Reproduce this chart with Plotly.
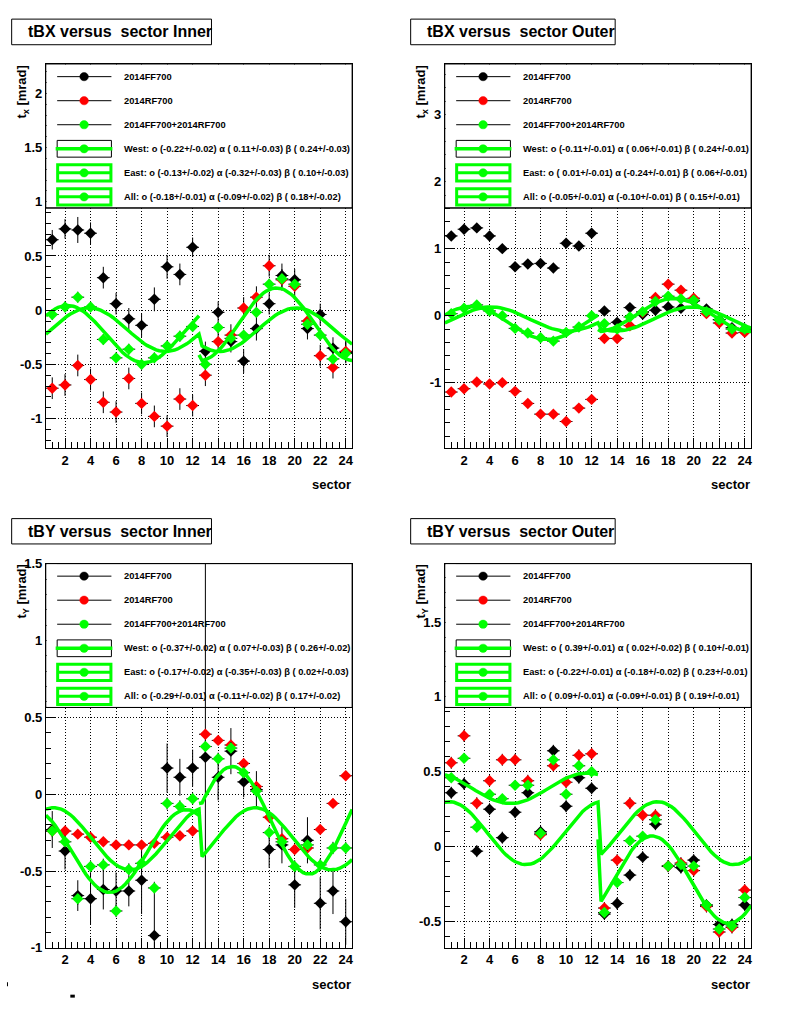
import numpy as np
import plotly.graph_objects as go

W, H = 800, 1014
FONT = "Liberation Sans"
GREEN, RED, BLACK = "#00ff00", "#ff0000", "#000000"

sectors = list(range(1, 25))
SECTOR_HALF_WIDTH = 0.5
series_names = ["2014FF700", "2014RF700", "2014FF700+2014RF700"]
fit_names = ["West", "East", "All"]

# ---------------- tBX versus sector Inner ----------------
tbx_in_ff = [0.65, 0.75, 0.74, 0.71, 0.30, 0.06, -0.08, -0.14, 0.10, 0.40, 0.33, 0.58,
             -0.38, -0.02, -0.29, -0.47, -0.17, 0.06, 0.32, 0.28, -0.17, -0.04, -0.35, -0.39]
tbx_in_ff_err = [0.09, 0.09, 0.12, 0.10, 0.10, 0.10, 0.10, 0.11, 0.11, 0.11, 0.10, 0.09,
                 0.09, 0.10, 0.10, 0.11, 0.11, 0.10, 0.11, 0.10, 0.10, 0.10, 0.10, 0.10]
tbx_in_rf = [-0.72, -0.69, -0.51, -0.64, -0.85, -0.94, -0.63, -0.86, -0.98, -1.07, -0.82, -0.88,
             -0.60, -0.29, -0.23, 0.02, 0.12, 0.41, 0.28, 0.22, -0.10, -0.42, -0.53, -0.38]
tbx_in_rf_err = [0.10, 0.10, 0.10, 0.10, 0.10, 0.10, 0.10, 0.10, 0.10, 0.10, 0.10, 0.10,
                 0.10, 0.10, 0.10, 0.10, 0.10, 0.10, 0.10, 0.10, 0.10, 0.10, 0.10, 0.10]
tbx_in_all = [-0.04, 0.03, 0.12, 0.03, -0.27, -0.44, -0.36, -0.50, -0.44, -0.33, -0.24, -0.15,
              -0.50, -0.16, -0.26, -0.23, -0.02, 0.24, 0.29, 0.24, -0.13, -0.23, -0.45, -0.40]
tbx_in_all_err = [0.05] * 24
tbx_in_fit = [[-0.22, 0.11, 0.24], [-0.13, -0.32, 0.10], [-0.18, -0.09, 0.18]]
tbx_in_fit_err = [[0.02, 0.03, 0.03], [0.02, 0.03, 0.03], [0.01, 0.02, 0.02]]

# ---------------- tBX versus sector Outer ----------------
tbx_out_ff = [1.19, 1.29, 1.31, 1.19, 1.00, 0.73, 0.77, 0.78, 0.71, 1.08, 1.04, 1.23,
              0.07, -0.10, 0.12, 0.02, 0.08, 0.13, 0.11, 0.22, 0.10, -0.06, -0.18, -0.20]
tbx_out_ff_err = [0.03] * 24
tbx_out_rf = [-1.14, -1.09, -0.99, -1.02, -1.00, -1.13, -1.31, -1.47, -1.47, -1.58, -1.38, -1.25,
              -0.34, -0.34, -0.15, 0.05, 0.27, 0.47, 0.38, 0.26, 0.03, -0.11, -0.26, -0.25]
tbx_out_rf_err = [0.03] * 24
tbx_out_all = [0.03, 0.11, 0.16, 0.07, 0.00, -0.19, -0.26, -0.33, -0.38, -0.25, -0.17, 0.00,
               -0.12, -0.20, -0.02, 0.06, 0.21, 0.29, 0.25, 0.23, 0.06, -0.06, -0.20, -0.20]
tbx_out_all_err = [0.02] * 24
tbx_out_fit = [[-0.11, 0.06, 0.24], [0.01, -0.24, 0.06], [-0.05, -0.10, 0.15]]
tbx_out_fit_err = [[0.01, 0.01, 0.01], [0.01, 0.01, 0.01], [0.01, 0.01, 0.01]]

# ---------------- tBY versus sector Inner ----------------
tby_in_ff = [-0.23, -0.37, -0.66, -0.68, -0.62, -0.63, -0.63, -0.56, -0.92, 0.17, 0.11, 0.17,
             0.24, 0.11, 0.28, 0.08, 0.03, -0.36, -0.33, -0.59, -0.30, -0.71, -0.63, -0.83]
tby_in_ff_err = [0.12, 0.12, 0.10, 0.17, 0.13, 0.12, 0.10, 0.22, 0.27, 0.16, 0.12, 0.12,
                 2.50, 0.15, 0.15, 0.10, 0.12, 0.12, 0.12, 0.15, 0.15, 0.17, 0.15, 0.15]
tby_in_rf = [-0.24, -0.24, -0.26, -0.28, -0.31, -0.33, -0.33, -0.33, -0.32, -0.28, -0.27, -0.24,
             0.39, 0.35, 0.32, 0.20, 0.05, -0.15, -0.29, -0.36, -0.35, -0.23, -0.06, 0.12]
tby_in_rf_err = [0.02] * 24
tby_in_all = [-0.24, -0.31, -0.68, -0.47, -0.46, -0.76, -0.49, -0.45, -0.61, -0.06, -0.08, -0.03,
              0.31, 0.23, 0.30, 0.14, 0.02, -0.25, -0.31, -0.47, -0.33, -0.46, -0.35, -0.35]
tby_in_all_err = [0.04] * 24
tby_in_fit = [[-0.37, 0.07, 0.26], [-0.17, -0.35, 0.02], [-0.29, -0.11, 0.17]]
tby_in_fit_err = [[0.02, 0.03, 0.02], [0.02, 0.03, 0.03], [0.01, 0.02, 0.02]]

# ---------------- tBY versus sector Outer ----------------
tby_out_ff = [0.36, 0.42, -0.03, 0.25, 0.06, 0.23, 0.36, 0.10, 0.64, 0.27, 0.46, 0.39,
              -0.45, -0.38, -0.19, -0.07, 0.15, -0.13, -0.14, -0.09, -0.39, -0.52, -0.52, -0.39]
tby_out_ff_err = [0.04] * 24
tby_out_rf = [0.56, 0.74, 0.29, 0.44, 0.58, 0.58, 0.44, 0.08, 0.54, 0.43, 0.61, 0.62,
              -0.41, -0.09, 0.29, 0.21, 0.21, -0.13, -0.11, -0.16, -0.40, -0.57, -0.54, -0.29]
tby_out_rf_err = [0.04] * 24
tby_out_all = [0.46, 0.59, 0.13, 0.35, 0.32, 0.41, 0.41, 0.09, 0.58, 0.35, 0.54, 0.50,
               -0.44, -0.24, 0.04, 0.07, 0.18, -0.13, -0.12, -0.13, -0.39, -0.55, -0.53, -0.34]
tby_out_all_err = [0.02] * 24
tby_out_fit = [[0.39, 0.02, 0.10], [-0.22, -0.18, 0.23], [0.09, -0.09, 0.19]]
tby_out_fit_err = [[0.01, 0.02, 0.01], [0.01, 0.02, 0.01], [0.01, 0.01, 0.01]]

x_tickvals = [2, 4, 6, 8, 10, 12, 14, 16, 18, 20, 22, 24]
x_ticktext = ["2", "4", "6", "8", "10", "12", "14", "16", "18", "20", "22", "24"]

panels = [
    dict(title="tBX versus  sector Inner", ytitle="t<sub>x</sub> [mrad]", kind="x",
         frame=(46, 353, 58, 448), yrange=(-1.275, 2.27), leg_bottom=204,
         yticks=[-1, -0.5, 0, 0.5, 1, 1.5, 2], ytext=["-1", "-0.5", "0", "0.5", "1", "1.5", "2"],
         yminor=0.1, title_box=(11.7, 212, 12.3, 38.3), title_x=27,
         data=[(tbx_in_ff, tbx_in_ff_err), (tbx_in_rf, tbx_in_rf_err), (tbx_in_all, tbx_in_all_err)],
         fit=tbx_in_fit, fit_err=tbx_in_fit_err),
    dict(title="tBX versus  sector Outer", ytitle="t<sub>x</sub> [mrad]", kind="x",
         frame=(446, 753, 58, 448), yrange=(-1.981, 3.754), leg_bottom=204,
         yticks=[-1, 0, 1, 2, 3], ytext=["-1", "0", "1", "2", "3"],
         yminor=0.2, title_box=(411.7, 616.7, 12.3, 38.3), title_x=427,
         data=[(tbx_out_ff, tbx_out_ff_err), (tbx_out_rf, tbx_out_rf_err), (tbx_out_all, tbx_out_all_err)],
         fit=tbx_out_fit, fit_err=tbx_out_fit_err),
    dict(title="tBY versus  sector Inner", ytitle="t<sub>Y</sub> [mrad]", kind="y",
         frame=(46, 353, 565, 955), yrange=(-1.0, 1.5), leg_bottom=711,
         yticks=[-1, -0.5, 0, 0.5, 1, 1.5], ytext=["-1", "-0.5", "0", "0.5", "1", "1.5"],
         yminor=0.1, title_box=(11.7, 212, 519.3, 545), title_x=27,
         data=[(tby_in_ff, tby_in_ff_err), (tby_in_rf, tby_in_rf_err), (tby_in_all, tby_in_all_err)],
         fit=tby_in_fit, fit_err=tby_in_fit_err),
    dict(title="tBY versus  sector Outer", ytitle="t<sub>Y</sub> [mrad]", kind="y",
         frame=(446, 753, 565, 955), yrange=(-0.676, 1.89), leg_bottom=711,
         yticks=[-0.5, 0, 0.5, 1, 1.5], ytext=["-0.5", "0", "0.5", "1", "1.5"],
         yminor=0.1, title_box=(411.7, 616.7, 519.3, 545), title_x=427,
         data=[(tby_out_ff, tby_out_ff_err), (tby_out_rf, tby_out_rf_err), (tby_out_all, tby_out_all_err)],
         fit=tby_out_fit, fit_err=tby_out_fit_err),
]


def px(x):
    return x / W


def py(y):
    return 1 - y / H


def fit_curve(s, params, kind):
    """Evaluate the sector fit o, alpha, beta (west: sectors <= 12.5, east: > 12.5)."""
    o, a, b = params
    s = np.asarray(s, dtype=float)
    east = s > 12.5 + 1e-9
    phi = np.radians(np.where(east, 90 + 30 * s, 90 - 30 * s))
    if kind == "x":
        return o + a * np.sin(phi) + b * np.cos(phi)
    sign = np.where(east, 1.0, -1.0)
    return o + sign * (a * np.cos(phi) - b * np.sin(phi))


fig = go.Figure()
shapes, annotations = [], []
colors = [BLACK, RED, GREEN]

for i, p in enumerate(panels):
    ax = "" if i == 0 else str(i + 1)
    xref, yref = "x" + ax, "y" + ax
    x0, x1, y0, y1 = p["frame"]
    ylo, yhi = p["yrange"]

    for (vals, errs), col in zip(p["data"], colors):
        fig.add_trace(go.Scatter(
            x=sectors, y=vals, mode="markers", xaxis=xref, yaxis=yref, showlegend=False,
            marker=dict(symbol="diamond", size=8.8, color=col, line=dict(width=0)),
            error_y=dict(type="data", array=errs, color=BLACK, thickness=1, width=0),
            error_x=dict(type="constant", value=SECTOR_HALF_WIDTH, color=BLACK, thickness=1, width=0),
        ))

    grids = [np.linspace(0.5, 12.5, 51), np.linspace(12.5, 24.5, 51), np.linspace(0.5, 24.5, 101)]
    for g, params in zip(grids, p["fit"]):
        fig.add_trace(go.Scatter(
            x=g, y=fit_curve(g, params, p["kind"]), mode="lines", xaxis=xref, yaxis=yref,
            showlegend=False, line=dict(color=GREEN, width=3.5)))

    ydom = [py(y1), py(y0)]
    xdom = [px(x0), px(x1)]
    yminor_vals = list(np.round(np.arange(np.ceil(ylo / p["yminor"]) * p["yminor"], yhi, p["yminor"]), 3))
    common = dict(showline=True, mirror=True, linecolor=BLACK, linewidth=1,
                  showgrid=True, gridcolor=BLACK, gridwidth=1, griddash="1px,2px",
                  zeroline=False, ticks="inside", tickcolor=BLACK, tickwidth=1,
                  tickfont=dict(family=FONT, size=13, color=BLACK, weight="bold"))
    fig.update_layout(**{
        "xaxis" + ax: dict(domain=xdom, range=[0.5, 24.5], anchor=yref, tickmode="array",
                           tickvals=x_tickvals, ticktext=x_ticktext, ticklen=10,
                           minor=dict(tickmode="array", tickvals=list(np.arange(0.5, 24.6, 0.5)),
                                      ticks="inside", ticklen=6, tickcolor=BLACK, showgrid=False),
                           **common),
        "yaxis" + ax: dict(domain=ydom, range=[ylo, yhi], anchor=xref, tickmode="array",
                           tickvals=p["yticks"], ticktext=p["ytext"], ticklen=9,
                           minor=dict(tickmode="array", tickvals=yminor_vals, ticks="inside",
                                      ticklen=5, tickcolor=BLACK, showgrid=False),
                           **common),
    })

    # legend box (above grid, below data)
    leg_val = yhi - (p["leg_bottom"] - y0) / (y1 - y0) * (yhi - ylo)
    shapes.append(dict(type="rect", xref=xref, yref=yref, x0=0.5, x1=24.5, y0=leg_val, y1=yhi,
                       layer="between", fillcolor="white", line=dict(color=BLACK, width=1)))
    shapes.append(dict(type="rect", xref="paper", yref="paper", x0=px(x0 + 0.8), x1=px(x0 + 11),
                       y0=py(p["leg_bottom"] - 1), y1=py(y0 + 1), layer="above",
                       fillcolor="white", line=dict(width=0)))
    shapes.append(dict(type="line", xref="paper", yref="paper", x0=px(x0), x1=px(x1),
                       y0=py(p["leg_bottom"]), y1=py(p["leg_bottom"]), layer="above",
                       line=dict(color=BLACK, width=1)))

    labels = list(series_names)
    for name, (o, a, b), (eo, ea, eb) in zip(fit_names, p["fit"], p["fit_err"]):
        labels.append(f"{name}: o ({o:5.2f}+/-{eo:.2f}) \u03b1 ({a:5.2f}+/-{ea:.2f}) \u03b2 ({b:5.2f}+/-{eb:.2f})")
    row_cols = [BLACK, RED, GREEN, GREEN, GREEN, GREEN]
    for r, (lab, col) in enumerate(zip(labels, row_cols)):
        yc = y0 + 12.7 + 24.4 * r
        lx0, lx1, mx = x0 + 11.3, x0 + 65.7, x0 + 38.3
        if r < 3:
            shapes.append(dict(type="line", xref="paper", yref="paper", x0=px(lx0), x1=px(lx1),
                               y0=py(yc), y1=py(yc), layer="above", line=dict(color=BLACK, width=1)))
        elif r == 3:
            shapes.append(dict(type="rect", xref="paper", yref="paper", x0=px(lx0), x1=px(lx1),
                               y0=py(yc + 8.5), y1=py(yc - 8.5), layer="above",
                               line=dict(color=BLACK, width=1)))
            shapes.append(dict(type="line", xref="paper", yref="paper", x0=px(lx0 - 1.5), x1=px(lx1 + 1),
                               y0=py(yc), y1=py(yc), layer="above", line=dict(color=GREEN, width=3.5)))
        else:
            shapes.append(dict(type="rect", xref="paper", yref="paper", x0=px(lx0 + 0.5), x1=px(lx1 - 0.5),
                               y0=py(yc + 8.3), y1=py(yc - 8.3), layer="above",
                               line=dict(color=GREEN, width=3)))
            shapes.append(dict(type="line", xref="paper", yref="paper", x0=px(lx0), x1=px(lx1),
                               y0=py(yc), y1=py(yc), layer="above", line=dict(color=GREEN, width=3)))
        shapes.append(dict(type="circle", xref="paper", yref="paper", x0=px(mx - 4.3), x1=px(mx + 4.3),
                           y0=py(yc + 4.2), y1=py(yc - 4.2), layer="above",
                           fillcolor=col, line=dict(color=col, width=0.5)))
        annotations.append(dict(x=px(x0 + 76.2), y=py(yc), xref="paper", yref="paper",
                                text=lab, showarrow=False, xanchor="left", yanchor="middle",
                                font=dict(family=FONT, size=9.3, color=BLACK, weight="bold")))

    # title box
    bx0, bx1, by0, by1 = p["title_box"]
    shapes.append(dict(type="rect", xref="paper", yref="paper", x0=px(bx0), x1=px(bx1),
                       y0=py(by1), y1=py(by0), layer="above", fillcolor="white",
                       line=dict(color=BLACK, width=1)))
    annotations.append(dict(x=px(p["title_x"] - 1), y=py((by0 + by1) / 2), xref="paper", yref="paper",
                            text=p["title"], showarrow=False, xanchor="left", yanchor="middle",
                            font=dict(family=FONT, size=16, color=BLACK, weight="bold")))
    # axis titles
    annotations.append(dict(x=px(x0 - 23), y=py(y0 - 1), xref="paper", yref="paper",
                            text=p["ytitle"], showarrow=False, textangle=-90,
                            xanchor="center", yanchor="top",
                            font=dict(family=FONT, size=13, color=BLACK, weight="bold")))
    annotations.append(dict(x=px(x1 + 1), y=py(y1 + 37), xref="paper", yref="paper",
                            text="sector", showarrow=False, xanchor="right", yanchor="middle",
                            font=dict(family=FONT, size=13, color=BLACK, weight="bold")))

# small stray marks at the bottom left of the canvas
shapes.append(dict(type="rect", xref="paper", yref="paper", x0=px(7), x1=px(8), y0=py(994), y1=py(990),
                   fillcolor=BLACK, line=dict(width=0)))
shapes.append(dict(type="rect", xref="paper", yref="paper", x0=px(70.5), x1=px(75), y0=py(1005.5), y1=py(1002.5),
                   fillcolor=BLACK, line=dict(width=0)))

fig.update_layout(width=W, height=H, autosize=False, margin=dict(l=0, r=0, t=0, b=0, pad=0),
                  paper_bgcolor="white", plot_bgcolor="white", showlegend=False,
                  shapes=shapes, annotations=annotations)

# place the figure at the page origin (remove the browser's default body margin)
fig.write_html("out.html", include_plotlyjs=True, config={"displayModeBar": False, "staticPlot": True},
               post_script="document.body.style.margin='0';document.body.style.overflow='hidden';")
